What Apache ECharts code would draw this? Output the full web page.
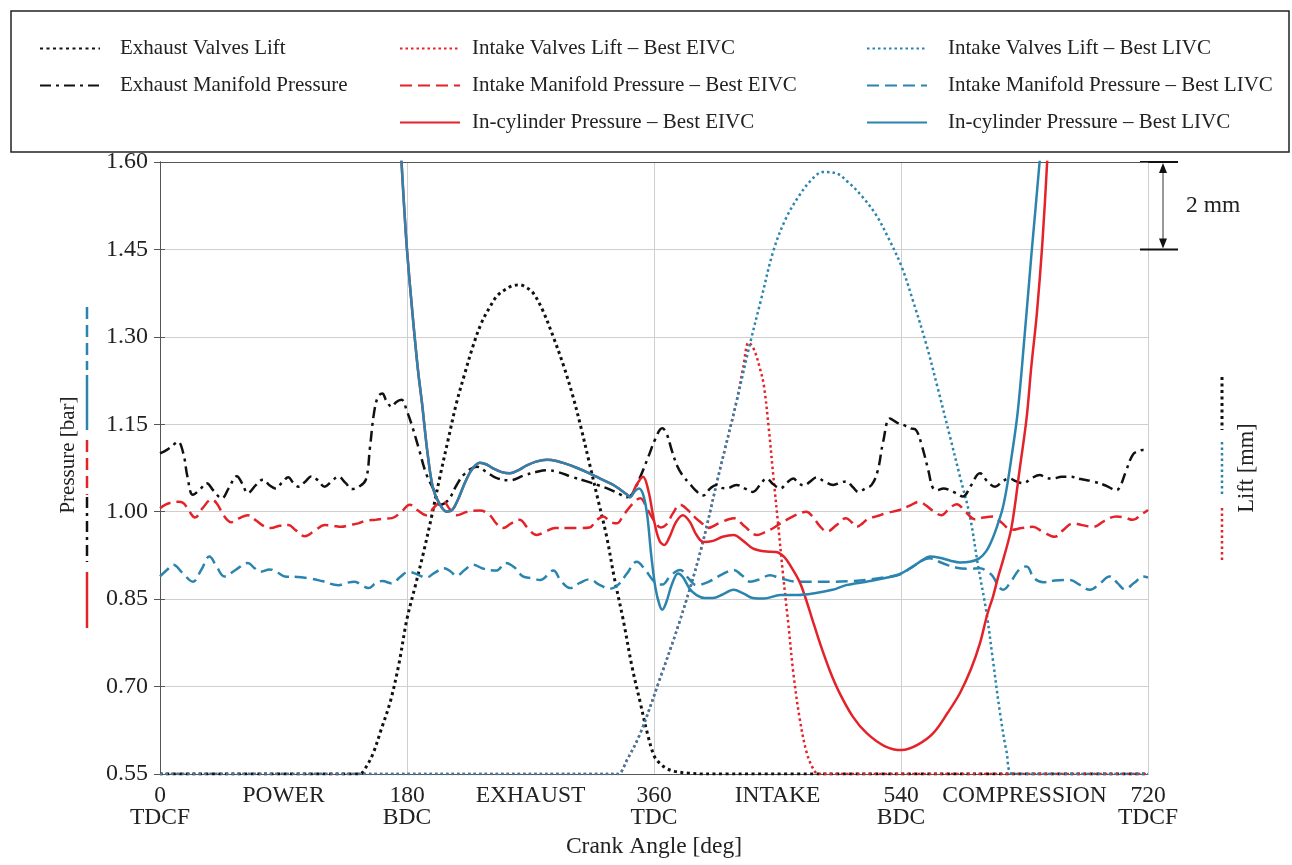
<!DOCTYPE html>
<html><head><meta charset="utf-8">
<script src="https://cdn.jsdelivr.net/npm/echarts@6/dist/echarts.min.js"></script>
<style>html,body{margin:0;padding:0;background:#fff}#c{width:1292px;height:865px}</style>
</head><body><div id="c"></div>
<script>
const FONT = '"Liberation Serif","Times New Roman",serif';
const RED = '#e42229', BLUE = '#2a84ae', BLACK = '#111111';

// ---- axis tick labels ----
const xTickValues = [0, 90, 180, 270, 360, 450, 540, 630, 720];
const xTickLabels = ['0\nTDCF', 'POWER', '180\nBDC', 'EXHAUST', '360\nTDC', 'INTAKE', '540\nBDC', 'COMPRESSION', '720\nTDCF'];

// ---- valve lifts [deg, mm] ----
const exhaustLift = [[0,0],[140,0],[145.7,0],[150,0.15],[155.4,0.48],[161,1.0],[167.6,1.63],[174,2.5],[179.8,3.52],[186,4.3],[191.9,5.05],[198,5.9],[204,6.8],[210,7.65],[216,8.48],[222,9.15],[228,9.78],[234,10.3],[240.5,10.69],[246,10.95],[252.6,11.1],[257,11.17],[262,11.19],[267,11.13],[272,11.0],[279,10.6],[286.6,10.0],[294,9.35],[301,8.63],[307,7.9],[313,7.1],[319,6.3],[325.5,5.43],[331,4.5],[337.6,3.52],[344,2.45],[350,1.63],[355,0.95],[360,0.42],[364,0.25],[369,0.13],[375,0.06],[385,0.02],[395,0],[720,0]];
const intakeLiftEIVC = [[0,0],[330,0],[334,0],[340,0.3],[350,0.93],[364,2.15],[379,3.52],[393.5,5.05],[408,6.96],[420,8.5],[425,9.3],[429,9.87],[433,9.7],[437,9.3],[440,8.9],[443.5,7.95],[447,6.8],[450.5,5.7],[454,4.57],[458,3.4],[461.5,2.32],[466,1.3],[471,0.52],[476,0.12],[480,0],[720,0]];
const intakeLiftLIVC = [[0,0],[330,0],[334,0],[340,0.3],[350,0.93],[364,2.15],[379,3.52],[393.5,5.05],[408,6.96],[420,8.5],[430,9.85],[438,10.85],[447,11.97],[456,12.7],[466,13.24],[475,13.6],[483,13.77],[492,13.75],[502.8,13.5],[512,13.2],[522,12.78],[531,12.25],[540.4,11.61],[549,10.8],[558.7,9.8],[567,8.8],[575.6,7.73],[583,6.8],[590,5.93],[596,4.8],[602.4,3.67],[607,2.6],[612,1.43],[617,0.5],[621.8,0],[720,0]];

// ---- pressures [deg, bar] ----
const exhaustManifold = [[0,1.100],[5,1.106],[9,1.113],[13,1.120],[17,1.100],[20,1.06],[24,1.029],[29,1.038],[34,1.049],[39,1.036],[45,1.023],[50,1.040],[56,1.061],[60,1.048],[64,1.032],[70,1.046],[75,1.055],[80,1.045],[84,1.040],[89,1.050],[93.5,1.059],[97,1.05],[101,1.043],[106,1.052],[110.5,1.061],[115,1.054],[120,1.043],[125,1.052],[130,1.060],[135,1.050],[140,1.039],[145,1.043],[150,1.055],[153,1.11],[156,1.17],[159,1.198],[162,1.203],[165,1.19],[169,1.180],[172,1.188],[176,1.192],[180,1.172],[184,1.145],[189,1.105],[194,1.065],[200,1.035],[204,1.012],[210,1.020],[216,1.045],[222,1.065],[231,1.077],[238,1.068],[245,1.058],[255,1.054],[265,1.062],[274,1.068],[282,1.071],[290,1.068],[300,1.060],[311,1.052],[320,1.045],[328,1.038],[335,1.030],[340,1.025],[344,1.030],[350,1.060],[356,1.095],[361,1.125],[366,1.143],[369,1.135],[373,1.105],[377,1.078],[381,1.062],[386,1.048],[391,1.035],[396,1.028],[401,1.040],[405.6,1.046],[409,1.041],[413,1.040],[420,1.046],[426,1.040],[432,1.034],[437,1.045],[442,1.057],[447,1.047],[452,1.040],[457,1.050],[461.5,1.057],[465,1.050],[469,1.045],[474,1.052],[478.5,1.059],[484,1.052],[490.6,1.046],[496,1.050],[500,1.052],[505,1.042],[509,1.034],[514,1.040],[518.6,1.046],[523,1.07],[527,1.12],[532,1.160],[537,1.153],[541.6,1.149],[547,1.143],[551,1.140],[555,1.115],[560,1.070],[563,1.042],[566,1.037],[571,1.040],[575.6,1.037],[580,1.032],[585,1.026],[591,1.045],[597.5,1.066],[603,1.052],[608.5,1.043],[614,1.052],[619,1.057],[624,1.052],[629,1.049],[635,1.057],[641,1.063],[646,1.058],[651,1.057],[657,1.060],[663,1.060],[671,1.056],[680,1.052],[689,1.045],[697,1.037],[700,1.045],[704,1.07],[709,1.098],[713,1.104],[716.5,1.106],[720,1.104]];
const intakeManifoldEIVC = [[0,1.006],[4,1.012],[8.5,1.016],[13,1.017],[17,1.015],[21,1.002],[25.5,0.990],[31,1.006],[37.7,1.021],[42,1.012],[46,0.995],[52,0.982],[58,0.989],[64,0.994],[70,0.985],[76,0.975],[81,0.972],[87,0.976],[93.5,0.977],[99,0.968],[105.6,0.958],[113,0.968],[120,0.977],[126,0.976],[132,0.974],[138,0.977],[144.5,0.980],[150.6,0.985],[157,0.986],[163,0.988],[169,0.989],[176,1.000],[182,1.012],[188,1.002],[194,0.994],[200,1.008],[206,1.019],[211,1.005],[216,0.994],[224,1.000],[233,1.002],[240,0.995],[245,0.980],[250,0.972],[256,0.980],[262,0.986],[268,0.972],[274.5,0.960],[281,0.966],[288,0.972],[296,0.972],[305,0.972],[313,0.973],[318,0.985],[323,0.992],[328,0.983],[332.8,0.980],[338,0.995],[345,1.015],[350,1.023],[355,1.005],[360,0.985],[365,0.973],[369,0.978],[374,0.998],[379,1.012],[385,1.002],[390,0.990],[395,0.980],[399,0.972],[408,0.981],[418,0.989],[426,0.975],[435,0.960],[441,0.965],[447,0.972],[452,0.980],[456.5,0.986],[462,0.993],[467,0.998],[471,1.000],[476,0.990],[481,0.975],[486,0.966],[493,0.977],[500,0.989],[504,0.982],[507.5,0.974],[512,0.980],[516,0.988],[522,0.992],[530,0.998],[539,1.003],[546,1.010],[553.5,1.017],[558,1.011],[563,1.002],[569.5,0.994],[575,1.005],[580.5,1.013],[587,1.000],[594,0.987],[600,0.990],[607,0.992],[613,0.982],[620.6,0.969],[628,0.972],[636,0.974],[643,0.966],[652,0.957],[658,0.968],[665.5,0.980],[672,0.977],[680,0.974],[688,0.984],[697,0.992],[703,0.990],[709,0.986],[715,0.995],[720,1.003]];
const intakeManifoldLIVC = [[0,0.889],[5,0.900],[9.7,0.909],[16,0.896],[24,0.880],[30,0.900],[36,0.923],[41,0.907],[47,0.889],[55,0.900],[64,0.912],[69,0.903],[73,0.897],[80,0.901],[86,0.895],[91,0.889],[100,0.888],[108,0.886],[118,0.881],[130,0.874],[136,0.878],[142,0.880],[147,0.874],[152,0.869],[157,0.877],[162,0.881],[169,0.877],[175,0.888],[181,0.897],[187,0.893],[194,0.887],[200,0.895],[207,0.903],[212,0.897],[216,0.890],[222,0.900],[228,0.909],[236,0.902],[245,0.899],[252,0.912],[258,0.905],[264.5,0.889],[271,0.886],[277,0.883],[286.6,0.899],[292,0.882],[299,0.869],[306,0.878],[313,0.884],[320,0.875],[328,0.868],[334,0.875],[340,0.893],[347.5,0.914],[353,0.902],[360.7,0.879],[366,0.875],[372,0.890],[379,0.900],[385,0.886],[391,0.874],[400,0.880],[410,0.893],[418,0.900],[424,0.891],[430,0.880],[437,0.884],[444.5,0.891],[452,0.886],[464,0.880],[476,0.880],[490,0.880],[503,0.881],[515,0.883],[530,0.888],[539,0.892],[548,0.905],[556,0.917],[561,0.920],[570,0.912],[580.5,0.904],[590,0.902],[597.5,0.903],[603,0.897],[607,0.889],[611,0.872],[614.5,0.866],[620,0.880],[627,0.903],[631.5,0.906],[637,0.886],[643.6,0.879],[652,0.882],[663,0.883],[670,0.875],[677.7,0.866],[685,0.877],[692,0.889],[698,0.877],[703,0.867],[710,0.878],[716.5,0.889],[720,0.887]];
const cylinderCommon = [[170,1.86],[173,1.73],[176,1.60],[178,1.52],[180,1.449],[184,1.34],[188,1.243],[191,1.185],[195,1.10],[199,1.040],[204,1.012],[209,1.000],[213,1.003],[217,1.020],[221,1.043],[226,1.068],[230,1.080],[233,1.084],[238,1.081],[243,1.074],[249,1.068],[255,1.066],[261,1.071],[267,1.079],[274,1.086],[282,1.089],[289,1.087],[296,1.082],[304,1.075],[311,1.068],[318,1.060],[325,1.052],[331,1.045],[336,1.037],[340,1.030],[342.5,1.025]];
const cylinderEIVCtail = [[347,1.045],[352,1.060],[356,1.035],[360,0.985],[364,0.950],[367.5,0.943],[371,0.955],[376,0.982],[381,0.994],[386,0.983],[391,0.960],[396,0.948],[403,0.950],[410,0.957],[418,0.960],[425,0.950],[432,0.937],[440,0.932],[449,0.931],[455,0.922],[460,0.905],[466,0.880],[470,0.855],[475,0.818],[481,0.774],[488,0.728],[495,0.690],[505,0.648],[515,0.620],[528,0.598],[540.5,0.591],[552,0.600],[563.5,0.620],[574,0.655],[583,0.689],[591,0.730],[597.5,0.774],[603,0.825],[607,0.854],[611,0.890],[615,0.922],[620.6,0.974],[626.6,1.075],[631.5,1.160],[635,1.250],[639,1.340],[643,1.460],[646.5,1.600],[650,1.760]];
const cylinderLIVCtail = [[346,1.035],[349,1.040],[352,1.030],[355,0.995],[358,0.925],[361,0.870],[364,0.840],[366,0.832],[369,0.845],[373,0.875],[377.5,0.894],[381,0.888],[386,0.868],[391,0.857],[397,0.852],[403,0.852],[410,0.858],[418,0.866],[425,0.860],[432,0.852],[440,0.851],[452,0.857],[465,0.857],[477,0.860],[490,0.866],[500,0.874],[515,0.880],[530,0.887],[540,0.894],[548,0.905],[555,0.916],[561,0.923],[568,0.921],[576,0.916],[583,0.913],[590,0.914],[597,0.920],[602,0.932],[606,0.950],[610,0.975],[614,1.005],[617,1.040],[620,1.085],[625,1.170],[630,1.300],[635,1.440],[641,1.600],[645,1.720]];

const DOT_K = [3, 3.5], DOT_C = [2.5, 3], DASH = [12, 6], DASHDOT = [11, 5, 3, 5];

function ser(name, data, color, width, type, yIdx, smooth) {
  return {
    name, type: 'line', data, yAxisIndex: yIdx, xAxisIndex: 0,
    symbol: 'none', smooth: smooth, clip: true,
    lineStyle: { color, width, type, cap: 'butt' },
    itemStyle: { color },
    emphasis: { disabled: true }
  };
}

const chart = echarts.init(document.getElementById('c'), null, { renderer: 'canvas' });
const txt = { fontFamily: FONT, fontSize: 21, color: '#222' };
const AX = 23.5;

const legendBase = {
  orient: 'vertical', top: 33, itemWidth: 60, itemHeight: 14, itemGap: 16,
  selectedMode: false,
  itemStyle: { color: 'rgba(0,0,0,0)', borderWidth: 0, opacity: 0 },
  textStyle: Object.assign({}, txt)
};

chart.setOption({
  animation: false,
  backgroundColor: '#fff',
  grid: { left: 160, right: 144, top: 162, bottom: 91, show: false },
  legend: [
    Object.assign({}, legendBase, { left: 34, data: ['Exhaust Valves Lift', 'Exhaust Manifold Pressure'], textStyle: Object.assign({}, txt, { padding: [0, 0, 0, 15] }) }),
    Object.assign({}, legendBase, { left: 394, data: ['Intake Valves Lift – Best EIVC', 'Intake Manifold Pressure – Best EIVC', 'In-cylinder Pressure – Best EIVC'], textStyle: Object.assign({}, txt, { padding: [0, 0, 0, 7] }) }),
    Object.assign({}, legendBase, { left: 861, data: ['Intake Valves Lift – Best LIVC', 'Intake Manifold Pressure – Best LIVC', 'In-cylinder Pressure – Best LIVC'], textStyle: Object.assign({}, txt, { padding: [0, 0, 0, 16] }) })
  ],
  xAxis: [
    {
      type: 'value', min: 0, max: 720, interval: 90, position: 'bottom',
      axisLine: { show: true, lineStyle: { color: '#555', width: 1 } },
      axisTick: { show: false }, splitLine: { show: false },
      axisLabel: {
        show: true, showMinLabel: true, showMaxLabel: true, margin: 11,
        fontFamily: FONT, fontSize: AX, lineHeight: 22, color: '#222',
        formatter: v => { const i = xTickValues.indexOf(Math.round(v)); return i >= 0 ? xTickLabels[i] : ''; }
      },
      name: 'Crank Angle [deg]', nameLocation: 'middle', nameGap: 61,
      nameTextStyle: { fontFamily: FONT, fontSize: AX, color: '#222' }
    },
    {
      type: 'value', min: 0, max: 720, interval: 180, position: 'top',
      axisLine: { show: true, lineStyle: { color: '#555', width: 1 } },
      axisTick: { show: false }, axisLabel: { show: false },
      splitLine: { show: true, lineStyle: { color: '#cfcfcf', width: 1 } }
    }
  ],
  yAxis: [
    {
      type: 'value', min: 0.55, max: 1.60, interval: 0.15, position: 'left',
      axisLine: { show: true, lineStyle: { color: '#555', width: 1 } },
      axisTick: { show: true, inside: true, length: 5, lineStyle: { color: '#555' } },
      splitLine: { show: true, lineStyle: { color: '#cfcfcf', width: 1 } },
      axisLabel: { show: true, showMinLabel: true, showMaxLabel: true, margin: 12, fontFamily: FONT, fontSize: 24, color: '#222', formatter: v => v.toFixed(2) }
    },
    {
      type: 'value', min: 0, max: 14, interval: 2, position: 'right',
      axisLine: { show: true, lineStyle: { color: '#555', width: 1 } },
      axisTick: { show: true, inside: true, length: 6, lineStyle: { color: '#555' } },
      splitLine: { show: false }, axisLabel: { show: false }
    }
  ],
  series: [
    ser('Exhaust Valves Lift', exhaustLift, BLACK, 3, DOT_K, 1, 0.35),
    ser('Intake Valves Lift – Best EIVC', intakeLiftEIVC, RED, 2.5, DOT_C, 1, 0.35),
    ser('Intake Valves Lift – Best LIVC', intakeLiftLIVC, BLUE, 2.5, DOT_C, 1, 0.35),
    ser('Exhaust Manifold Pressure', exhaustManifold, BLACK, 2.5, DASHDOT, 0, 0.4),
    ser('Intake Manifold Pressure – Best EIVC', intakeManifoldEIVC, RED, 2.5, DASH, 0, 0.4),
    ser('Intake Manifold Pressure – Best LIVC', intakeManifoldLIVC, BLUE, 2.5, DASH, 0, 0.4),
    ser('In-cylinder Pressure – Best EIVC', cylinderCommon.concat(cylinderEIVCtail), RED, 2.5, 'solid', 0, 0.35),
    ser('In-cylinder Pressure – Best LIVC', cylinderCommon.concat(cylinderLIVCtail), BLUE, 2.5, 'solid', 0, 0.35)
  ]
});

// decorations: legend frame, axis-name keys, 2 mm scale bar
const pTop = chart.convertToPixel({ xAxisIndex: 0, yAxisIndex: 0 }, [720, 1.60]);
const pBar = chart.convertToPixel({ xAxisIndex: 0, yAxisIndex: 1 }, [720, 14 - 2]);
const xr = pTop[0], yt = pTop[1], yb = pBar[1], xm = xr + 15;

function vline(x, y1, y2, color, width, dash) {
  return { type: 'line', silent: true, shape: { x1: x, y1, x2: x, y2 }, style: { stroke: color, lineWidth: width, lineDash: dash || null } };
}
chart.setOption({
  graphic: [
    { type: 'rect', silent: true, shape: { x: 11, y: 11, width: 1278, height: 141 }, style: { fill: 'none', stroke: '#222', lineWidth: 1.5 } },
    vline(87, 307, 370, BLUE, 2.5, DASH),
    vline(87, 375, 430, BLUE, 2.5),
    vline(87, 440, 495, RED, 2.5, DASH),
    vline(87, 497, 562, BLACK, 2.5, DASHDOT),
    vline(87, 572, 628, RED, 2.5),
    vline(1222, 377, 430, BLACK, 3, DOT_K),
    vline(1222, 442, 497, BLUE, 2.5, DOT_C),
    vline(1222, 508, 563, RED, 2.5, DOT_C),
    { type: 'text', silent: true, x: 68, y: 455, rotation: Math.PI / 2, style: { text: 'Pressure [bar]', fontFamily: FONT, fontSize: 21, fill: '#222', align: 'center', verticalAlign: 'middle' } },
    { type: 'text', silent: true, x: 1247, y: 468, rotation: Math.PI / 2, style: { text: 'Lift [mm]', fontFamily: FONT, fontSize: 22.5, fill: '#222', align: 'center', verticalAlign: 'middle' } },
    { type: 'line', silent: true, shape: { x1: xr - 8, y1: yt, x2: xr + 30, y2: yt }, style: { stroke: '#111', lineWidth: 2 } },
    { type: 'line', silent: true, shape: { x1: xr - 8, y1: yb, x2: xr + 30, y2: yb }, style: { stroke: '#111', lineWidth: 2 } },
    { type: 'line', silent: true, shape: { x1: xm, y1: yt + 8, x2: xm, y2: yb - 8 }, style: { stroke: '#333', lineWidth: 1 } },
    { type: 'polygon', silent: true, shape: { points: [[xm, yt + 1], [xm - 4, yt + 11], [xm + 4, yt + 11]] }, style: { fill: '#111' } },
    { type: 'polygon', silent: true, shape: { points: [[xm, yb - 1], [xm - 4, yb - 11], [xm + 4, yb - 11]] }, style: { fill: '#111' } },
    { type: 'text', silent: true, x: xr + 38, y: (yt + yb) / 2, style: { text: '2 mm', fontFamily: FONT, fontSize: AX, fill: '#222', align: 'left', verticalAlign: 'middle' } }
  ]
});
</script></body></html>
